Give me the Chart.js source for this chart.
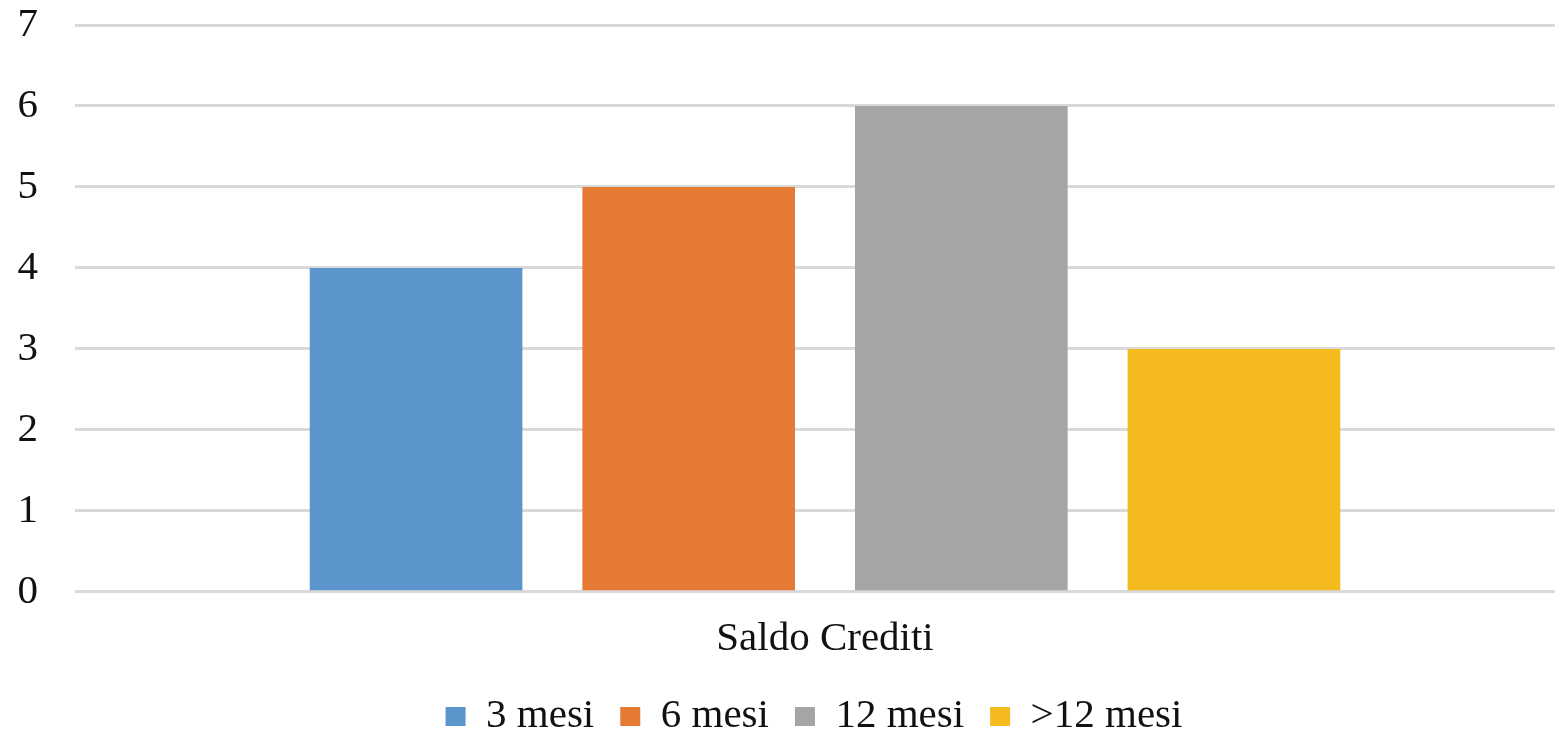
<!DOCTYPE html>
<html>
<head>
<meta charset="utf-8">
<script src="https://cdn.jsdelivr.net/npm/chart.js@4"></script>
<style>
  html, body { margin: 0; padding: 0; background: #fff; overflow: hidden; }
  #wrap { width: 1575px; height: 731px; }
</style>
</head>
<body>
<div id="wrap"><canvas id="chart"></canvas></div>
<script>
const categories = ["Saldo Crediti"];
const seriesNames = ["3 mesi", "6 mesi", "12 mesi", ">12 mesi"];
const seriesValues = [[4], [5], [6], [3]];
const seriesColors = ["#5B95CC", "#E57A35", "#A5A5A5", "#F4BA1E"];
const yTicks = [0, 1, 2, 3, 4, 5, 6, 7];

const font = { family: "'Liberation Serif', 'Times New Roman', serif", size: 41 };

/* move legend to where Excel put it */
const legendShift = {
  id: 'legendShift',
  afterLayout(chart){
    const l = chart.legend;
    l.left += 18; l.right += 18;
    l.top -= 9; l.bottom -= 9;
  }
};

new Chart(document.getElementById('chart'), {
  type: 'bar',
  data: {
    labels: categories,
    datasets: seriesNames.map((name, i) => ({
      label: name,
      data: seriesValues[i],
      backgroundColor: seriesColors[i],
      borderWidth: 0
    }))
  },
  options: {
    responsive: true,
    maintainAspectRatio: false,
    animation: false,
    categoryPercentage: 0.727,
    barPercentage: 0.78,
    layout: { padding: { left: 17, top: 25, right: 0, bottom: -25 } },
    scales: {
      x: {
        grid: { display: false },
        border: { display: false },
        ticks: { color: '#111', font, padding: 15 }
      },
      y: {
        min: 0,
        max: 7,
        afterBuildTicks: axis => { axis.ticks = yTicks.map(v => ({ value: v })); },
        afterFit: axis => { axis.width = 58; axis.paddingTop = 0; axis.paddingBottom = 0; },
        grid: { color: '#d9d9d9', lineWidth: 3, drawTicks: false },
        border: { display: false },
        ticks: { color: '#111', font, padding: 37 }
      }
    },
    plugins: {
      legend: {
        position: 'bottom',
        labels: { color: '#111', font, boxWidth: 20, boxHeight: 19, padding: 26 }
      },
      tooltip: { enabled: false }
    }
  },
  plugins: [legendShift]
});
</script>
</body>
</html>
